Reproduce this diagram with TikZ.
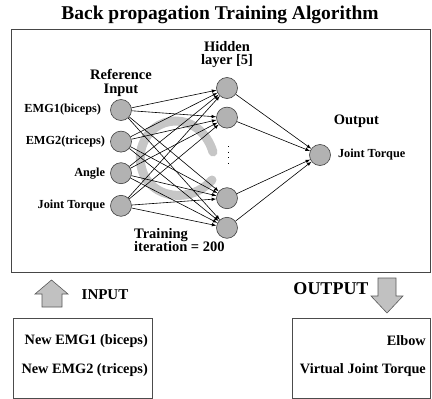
\documentclass[tikz,border=0pt]{standalone}
\usepackage{fontspec}
\setmainfont{Liberation Serif}
\usepackage{tikz}
\usetikzlibrary{shapes,arrows,positioning}
\definecolor{unitgray}{RGB}{178, 178, 178}
\definecolor{bandgray}{RGB}{198, 198, 198}
\definecolor{framegray}{RGB}{70, 70, 70}
\tikzstyle{unit} = [circle, draw=black!75, line width=0.6pt, fill=unitgray, minimum size = 21pt, inner sep=0pt]
\tikzstyle{lbl} = [inner sep=1pt, font=\bfseries\fontsize{12.3}{14}\selectfont]
\tikzstyle{head} = [inner sep=1pt, align=center, font=\bfseries\fontsize{14.5}{16}\selectfont]
\tikzstyle{boxtxt} = [inner sep=1pt, font=\bfseries\fontsize{14.3}{16}\selectfont]
\tikzstyle{frame} = [draw=framegray, line width=0.8pt, inner sep=0pt]
\tikzstyle{blockarrow} = [draw=black!65, line width=0.6pt, fill=unitgray!80]
\tikzstyle{backprop} = [draw=bandgray, line width=9pt, line cap=round]
\tikzstyle{tedge}  = [draw, line width=0.6pt, >=latex, ->]

\begin{document}
\begin{tikzpicture}[auto, x=1pt, y=-1pt]
\useasboundingbox (0,0) rectangle (432,399);

% title and frame =========================
\node[font=\bfseries\fontsize{19.5}{22}\selectfont] (title) at (220,15) {Back propagation Training Algorithm};
\node[frame, minimum width=419pt, minimum height=243pt] (netbox) at (220.5,150.5) {};

% error fed back through the net
\draw[backprop] (213,152) .. controls (200,110) and (150,112) .. (141,150) .. controls (134,194) and (185,210) .. (212,180);

% units =============================

% input layer
\node[unit] (in1) at (121,110) {};
\node[unit, below=10pt of in1] (in2) {};
\node[unit, below=10pt of in2] (in3) {};
\node[unit, below=11pt of in3] (in4) {};

% hidden layer
\node[unit] (hid1) at (227,88) {};
\node[unit, below=8pt of hid1] (hid2) {};
\node[unit, below=59pt of hid2] (hid3) {};
\node[unit, below=8pt of hid3] (hid4) {};
\coordinate (dtop) at (228,146);
\coordinate (dbot) at (228,168);
\draw[line width=1pt, dash pattern=on 1.2pt off 4.4pt] (dtop) -- (dbot);

% output
\node[unit] (out) at (320,155) {};

% labels
\node[lbl, left=8pt of in1] (l1) {EMG1(biceps)};
\node[lbl, left=4pt of in2] (l2) {EMG2(triceps)};
\node[lbl, left=4pt of in3] (l3) {Angle};
\node[lbl, left=4pt of in4] (l4) {Joint Torque};
\node[head, above=1pt of in1] (refin) {Reference\\[-2pt]Input};
\node[head, above=8pt of hid1] (hidlbl) {Hidden\\[-3pt]layer [5]};
\node[head, above right=19pt and 5pt of out] (outhead) {Output};
\node[lbl, right=6pt of out] (outlbl) {Joint Torque};
\node[head, align=left, anchor=north west] (train) at (133,227) {Training\\[-3pt]iteration = 200};

%edges
\path[tedge] (in1) -- (hid1);
\path[tedge] (in1) -- (hid2);
\path[tedge] (in1) -- (hid3);
\path[tedge] (in1) -- (hid4);
\path[tedge] (in2) -- (hid1);
\path[tedge] (in2) -- (hid2);
\path[tedge] (in2) -- (hid3);
\path[tedge] (in2) -- (hid4);
\path[tedge] (in3) -- (hid1);
\path[tedge] (in3) -- (hid2);
\path[tedge] (in3) -- (hid3);
\path[tedge] (in3) -- (hid4);
\path[tedge] (in4) -- (hid1);
\path[tedge] (in4) -- (hid2);
\path[tedge] (in4) -- (hid3);
\path[tedge] (in4) -- (hid4);

\path[tedge] (hid1) -- (out);
\path[tedge] (hid2) -- (out);
\path[tedge] (hid3) -- (out);
\path[tedge] (hid4) -- (out);

% new data in, result out =====================
\draw[blockarrow] (51.5,280) -- (68,294) -- (62,294) -- (62,307) -- (42,307) -- (42,294) -- (35,294) -- cycle;
\node[font=\bfseries\fontsize{15}{17}\selectfont] (inlbl) at (105,295) {INPUT};
\draw[blockarrow] (378,278) -- (396,278) -- (396,296) -- (403,296) -- (387,313) -- (371,296) -- (378,296) -- cycle;
\node[font=\bfseries\fontsize{18}{20}\selectfont] (outlbl2) at (331,289) {OUTPUT};

\node[frame, draw=black!70, minimum width=139pt, minimum height=80pt] (newbox) at (82.5,358) {};
\node[boxtxt, anchor=east] (emg1new) at (149,341) {New EMG1 (biceps)};
\node[boxtxt, anchor=east] (emg2new) at (149,370) {New EMG2 (triceps)};

\node[frame, draw=black!70, minimum width=138pt, minimum height=80pt] (resbox) at (361,358) {};
\node[boxtxt, anchor=east] (elbow) at (427,341) {Elbow};
\node[boxtxt, anchor=east] (vjt) at (427,370) {Virtual Joint Torque};

\end{tikzpicture}
\end{document}
